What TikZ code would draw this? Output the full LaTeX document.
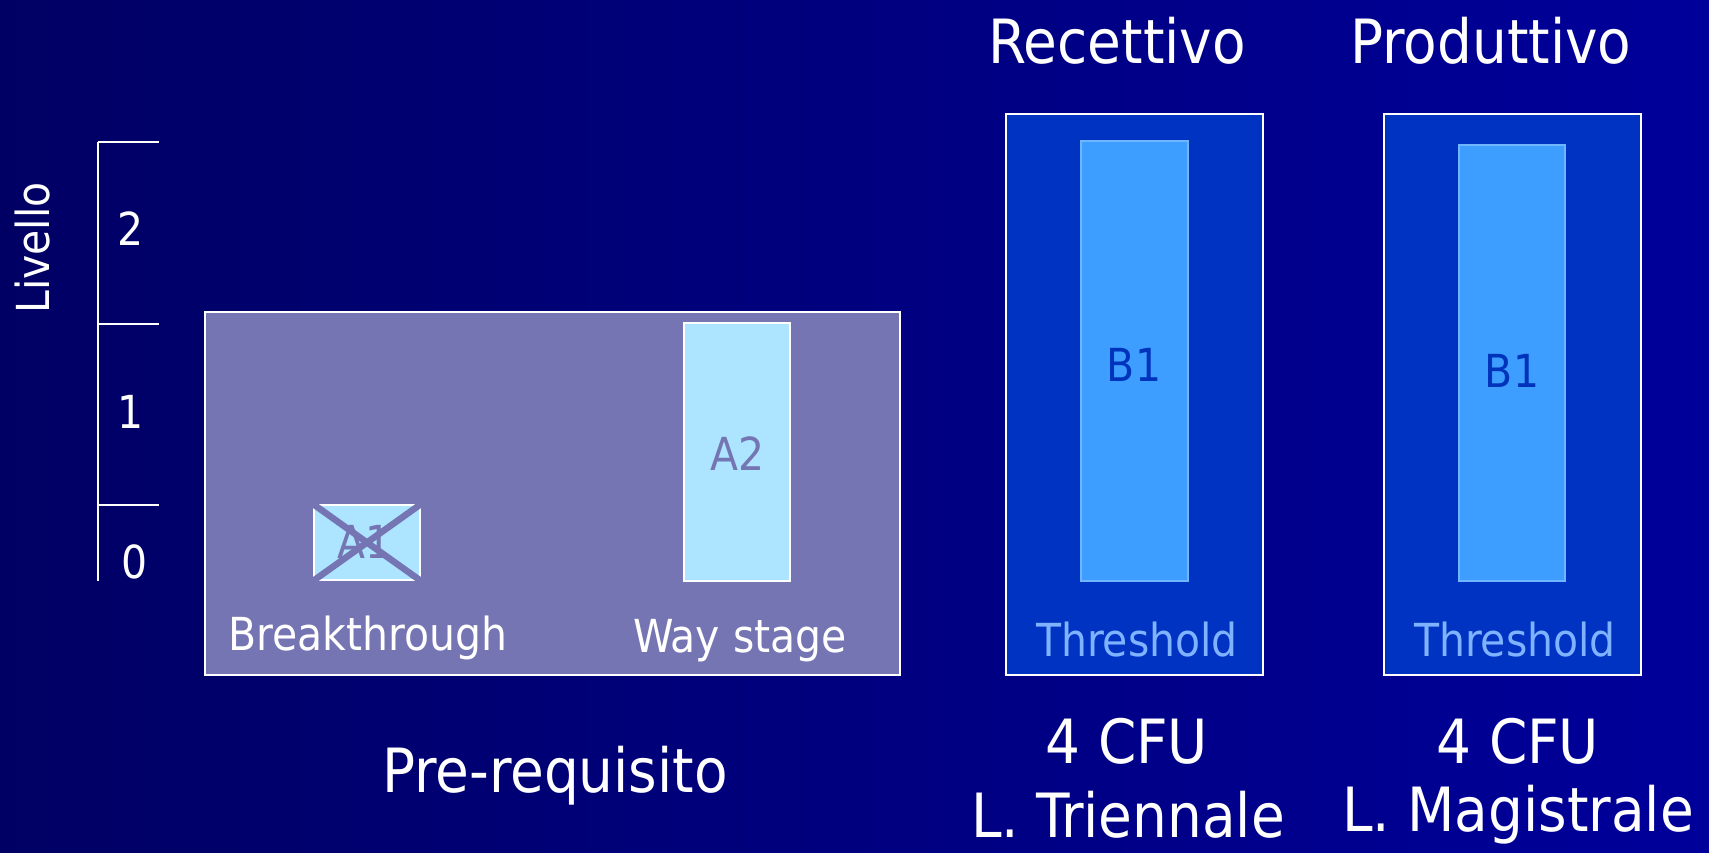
\documentclass[tikz,border=0pt]{standalone}
\usepackage{fontspec}
\setmainfont{DejaVu Sans Condensed}
\usetikzlibrary{calc}

\definecolor{bgleft}{RGB}{0,0,100}
\definecolor{bgright}{RGB}{0,0,154}
\definecolor{prebox}{RGB}{117,117,179}
\definecolor{abar}{RGB}{173,228,255}
\definecolor{bbox}{RGB}{0,51,194}
\definecolor{bbar}{RGB}{61,158,255}
\definecolor{bbarline}{RGB}{112,182,255}
\definecolor{btext}{RGB}{0,51,187}
\definecolor{thresh}{RGB}{128,179,255}

\tikzset{
	bigtext/.style={font=\fontsize{61}{66}\selectfont, text=white, inner sep=0pt},
	smalltext/.style={font=\fontsize{45.5}{50}\selectfont, text=white, inner sep=0pt},
	panel/.style={rectangle, draw=white, line width=2pt, inner sep=0pt, outer sep=0pt},
	levelbar/.style={rectangle, fill=abar, draw=white, line width=2pt, inner sep=0pt},
	cefrbar/.style={rectangle, fill=bbar, draw=bbarline, line width=1.5pt, inner sep=0pt},
	crossout/.style={prebox, line width=6.5pt, shorten <=-2pt, shorten >=-2pt},
}

\begin{document}
\begin{tikzpicture}[x=1pt,y=-1pt]
	%\draw[style=help lines,gray!50] (0,0) grid[step=100] (1709,852);
	\shade[left color=bgleft, right color=bgright] (0,0) rectangle (1709,852);
	\useasboundingbox (0,0) rectangle (1709,852);

	% scale on the left
	\draw[white, line width=2pt] (98,142) -- (98,581);
	\foreach \y in {142,324,505}
		\draw[white, line width=2pt] (98,\y) -- (159,\y);
	\node[smalltext] (lv2) at (131,229) {2};
	\node[smalltext] (lv1) at (131,412) {1};
	\node[smalltext] (lv0) at (135,562) {0};
	\node[smalltext, rotate=90] (livello) at (33,248) {Livello};

	% pre-requisito
	\node[panel, fill=prebox, minimum width=695pt, minimum height=363pt] (pre) at (552.5,493.5) {};
	\node[levelbar, minimum width=106pt, minimum height=75pt] (a1) at (367,542.5) {};
	\node[levelbar, minimum width=106pt, minimum height=258pt] (a2) at (737,452) {};
	\node[smalltext, text=prebox] (a1txt) at (365,542) {A1};
	\node[smalltext, text=prebox] (a2txt) at (738,454) {A2};
	\draw[crossout] (a1.north west) -- (a1.south east);
	\draw[crossout] (a1.north east) -- (a1.south west);
	\node[smalltext] (brk) at (368,638) {Breakthrough};
	\node[smalltext] (way) at (740,641) {Way stage};
	\node[bigtext] (prereq) at (555,776) {Pre-requisito};

	% recettivo
	\node[bigtext] (rec) at (1117,41) {Recettivo};
	\node[panel, fill=bbox, minimum width=257pt, minimum height=561pt] (recbox) at (1134.5,394.5) {};
	\node[cefrbar, minimum width=107pt, minimum height=440pt] (recbar) at (1134.5,361) {};
	\node[smalltext, text=btext] (recb1) at (1134,365) {B1};
	\node[smalltext, text=thresh] (recthr) at (1137,640) {Threshold};
	\node[bigtext] (reccfu) at (1127,741) {4 CFU};
	\node[bigtext] (reclt) at (1128,815) {L. Triennale};

	% produttivo
	\node[bigtext] (pro) at (1491,41) {Produttivo};
	\node[panel, fill=bbox, minimum width=257pt, minimum height=561pt] (probox) at (1512.5,394.5) {};
	\node[cefrbar, minimum width=106pt, minimum height=436pt] (probar) at (1512,363) {};
	\node[smalltext, text=btext] (prob1) at (1512,371) {B1};
	\node[smalltext, text=thresh] (prothr) at (1515,640) {Threshold};
	\node[bigtext] (procfu) at (1518,741) {4 CFU};
	\node[bigtext] (prolm) at (1518,815) {L. Magistrale};
\end{tikzpicture}
\end{document}
